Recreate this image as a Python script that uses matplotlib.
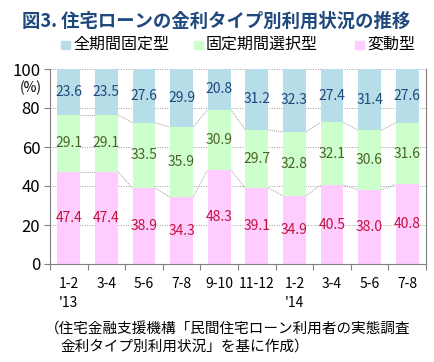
import numpy as np
import matplotlib.pyplot as plt

plt.rcParams['font.family'] = ['Noto Sans CJK JP', 'DejaVu Sans']

# data
periods = ['1-2\n\'13', '3-4', '5-6', '7-8', '9-10', '11-12', '1-2\n\'14', '3-4', '5-6', '7-8']
zenki = [23.6, 23.5, 27.6, 29.9, 20.8, 31.2, 32.3, 27.4, 31.4, 27.6]
kotei = [29.1, 29.1, 33.5, 35.9, 30.9, 29.7, 32.8, 32.1, 30.6, 31.6]
hendo = [47.4, 47.4, 38.9, 34.3, 48.3, 39.1, 34.9, 40.5, 38.0, 40.8]
series_names = ['全期間固定型', '固定期間選択型', '変動型']

c_blue = '#b7dde8'
c_green = '#ccffcc'
c_pink = '#ffccff'

fig = plt.figure(figsize=(4.34, 3.62), dpi=100)
ax = fig.add_axes([50/434, 1-264/362, 376/434, 195/362])

x = np.arange(len(periods))
w = 0.61
hendo = np.array(hendo)
kotei = np.array(kotei)
zenki = np.array(zenki)

ax.bar(x, hendo, w, color=c_pink, zorder=2)
ax.bar(x, kotei, w, bottom=hendo, color=c_green, zorder=2)
ax.bar(x, zenki, w, bottom=hendo + kotei, color=c_blue, zorder=2)

# series lines between bars
for top in [hendo, hendo + kotei]:
    for i in range(len(x) - 1):
        ax.plot([x[i] + w/2, x[i+1] - w/2], [top[i], top[i+1]],
                color='#a0a0a0', lw=0.7, ls=(0, (1, 1)), zorder=1)

# labels
for i in range(len(x)):
    ax.text(x[i], hendo[i]/2, f'{hendo[i]:.1f}', ha='center', va='center',
            color='#c0143c', fontsize=10, zorder=3)
    ax.text(x[i], hendo[i] + kotei[i]/2, f'{kotei[i]:.1f}', ha='center', va='center',
            color='#4f6228', fontsize=10, zorder=3)
    ax.text(x[i], hendo[i] + kotei[i] + zenki[i]/2, f'{zenki[i]:.1f}', ha='center', va='center',
            color='#1f497d', fontsize=10, zorder=3)

ax.set_xlim(-0.5, len(x) - 0.5)
ax.set_ylim(0, 100)
ax.set_yticks([0, 20, 40, 60, 80, 100])
ax.tick_params(axis='y', length=4, color='#808080', labelsize=12, pad=3)
for v in [20, 40, 60, 80, 100]:
    ax.axhline(v, color='#a0a0a0', lw=0.7, ls=(0, (1, 1.5)), zorder=0)

ax.set_xticks(np.arange(len(x) + 1) - 0.5, minor=False)
ax.set_xticklabels([])
ax.tick_params(axis='x', length=4, color='#808080', direction='out')
for i, lab in enumerate(periods):
    ax.text(x[i], -6.5, lab, ha='center', va='top', fontsize=10, linespacing=1.45,
            transform=ax.transData)

for s in ['left', 'bottom', 'right']:
    ax.spines[s].set_color('#808080')
ax.spines['top'].set_visible(False)

fig.text(31/434, 1-88/362, '(%)', ha='center', va='center', fontsize=10)

fig.text(22/434, 1-21/362, '図3. 住宅ローンの金利タイプ別利用状況の推移',
         fontsize=13.2, color='#1f497d', weight='bold', ha='left', va='center')

# legend
leg_x = [61, 194, 355]
for lx, name, c in zip(leg_x, series_names, [c_blue, c_green, c_pink]):
    fig.patches.append(plt.Rectangle((lx/434, 1-49/362), 9/434, 8/362,
                                     transform=fig.transFigure, color=c))
    fig.text((lx + 12)/434, 1-44/362, name, fontsize=11.5, ha='left', va='center')

fig.text(45/434, 1-330/362, '（住宅金融支援機構「民間住宅ローン利用者の実態調査',
         fontsize=10.5, ha='left', va='center')
fig.text(60/434, 1-347/362, '金利タイプ別利用状況」を基に作成）',
         fontsize=10.5, ha='left', va='center')

fig.savefig('out.png', dpi=100)
